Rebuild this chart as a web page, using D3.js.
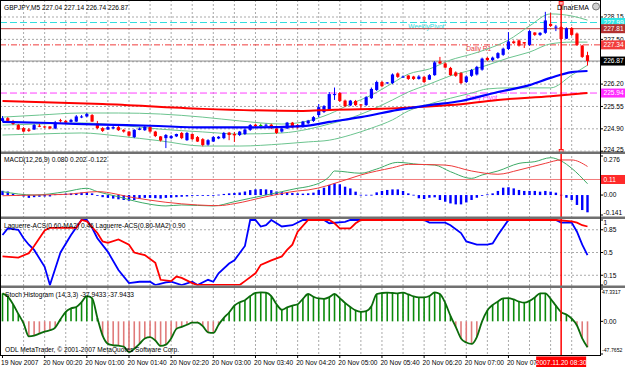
<!DOCTYPE html>
<html>
<head>
<meta charset="utf-8">
<script src="https://cdnjs.cloudflare.com/ajax/libs/d3/7.8.5/d3.min.js"></script>
<style>
  body { margin: 0; background: #fff; }
  svg { display: block; }
  text { font-family: "Liberation Sans", Arial, sans-serif; font-size: 6.6px; }
</style>
</head>
<body>
<svg id="chart"></svg>
<script>
(function() {

// ---------- data ----------
const chartTitle = "GBPJPY,M5 227.04 227.14 226.74 226.87";

// GBPJPY M5 bars, 19 Nov 23:40 .. 20 Nov 08:55
const open = [225.13,225.21,225.11,225.01,224.92,224.88,224.88,224.99,224.97,224.97,
  224.91,225.15,225.13,225.10,225.11,225.23,225.26,225.30,225.05,224.92,
  224.88,224.91,224.95,224.87,224.82,224.66,224.87,224.86,224.95,224.82,
  224.68,224.63,224.63,224.68,224.78,224.57,224.75,224.66,224.60,224.44,
  224.53,224.62,224.63,224.79,224.75,224.72,224.75,224.87,225.02,225.01,
  224.99,225.02,224.91,224.82,224.91,225.08,225.01,224.95,225.06,225.13,
  225.30,225.39,225.45,225.88,225.94,225.72,225.58,225.71,225.61,225.59,
  225.79,226.03,226.26,226.22,226.23,226.51,226.39,226.45,226.42,226.35,
  226.41,226.33,226.46,226.86,226.80,226.67,226.54,226.52,226.26,226.44,
  226.48,226.62,226.96,226.90,226.96,227.05,227.22,227.44,227.47,227.42,
  227.34,227.70,227.63,227.69,227.95,227.85,227.86,227.52,227.83,227.67,
  227.32,227.04];
const high = [225.27,225.24,225.16,225.04,224.95,224.92,225.04,225.04,224.98,224.98,
  225.13,225.19,225.16,225.19,225.30,225.30,225.36,225.33,225.13,224.95,
  224.98,224.98,224.98,224.89,224.84,224.89,224.94,224.98,224.98,224.84,
  224.69,224.75,224.72,224.76,224.81,224.81,224.76,224.69,224.63,224.60,
  224.69,224.69,224.81,224.81,224.81,224.84,224.91,225.04,225.05,225.05,
  225.05,225.05,224.92,224.94,225.10,225.10,225.04,225.13,225.16,225.27,
  225.62,225.59,225.97,226.10,225.97,225.75,225.74,225.74,225.62,225.85,
  226.10,226.30,226.29,226.26,226.51,226.54,226.45,226.46,226.44,226.46,
  226.44,226.49,226.87,226.99,226.83,226.70,226.57,226.55,226.45,226.64,
  226.73,226.97,226.99,227.00,227.13,227.26,227.71,227.47,227.50,227.42,
  227.77,227.71,227.71,228.30,228.27,227.92,227.89,227.85,227.86,227.70,
  227.34,227.14];
const low = [225.10,225.10,225.01,224.87,224.81,224.81,224.87,224.95,224.92,224.89,
  224.89,225.08,225.07,225.08,225.10,225.21,225.24,225.10,224.89,224.81,
  224.87,224.89,224.84,224.79,224.68,224.63,224.86,224.84,224.79,224.66,
  224.53,224.34,224.60,224.66,224.60,224.55,224.57,224.52,224.39,224.41,
  224.52,224.60,224.60,224.57,224.52,224.69,224.72,224.84,224.95,224.97,
  224.97,224.89,224.75,224.79,224.89,224.92,224.91,224.94,225.03,225.10,
  225.24,225.36,225.42,225.74,225.68,225.53,225.56,225.56,225.45,225.56,
  225.77,226.00,226.11,226.20,226.20,226.38,226.38,226.32,226.32,226.33,
  226.23,226.32,226.44,226.78,226.67,226.44,226.41,226.20,226.23,226.41,
  226.45,226.59,226.87,226.87,226.93,227.02,227.19,227.37,227.29,227.25,
  227.31,227.60,227.60,227.66,227.86,227.74,227.48,227.51,227.60,227.31,
  226.96,226.74];
const close = [225.21,225.13,225.04,224.88,224.82,224.84,225.01,224.97,224.94,224.91,
  225.08,225.13,225.08,225.16,225.26,225.26,225.33,225.11,224.92,224.84,
  224.95,224.95,224.86,224.82,224.70,224.87,224.91,224.96,224.82,224.69,
  224.56,224.72,224.69,224.75,224.63,224.78,224.60,224.53,224.43,224.57,
  224.66,224.67,224.78,224.72,224.71,224.82,224.88,225.01,224.98,225.01,
  225.02,224.92,224.78,224.91,225.08,224.94,224.94,225.11,225.14,225.24,
  225.53,225.56,225.91,225.91,225.71,225.56,225.72,225.59,225.58,225.82,
  226.06,226.26,226.14,226.25,226.48,226.41,226.42,226.35,226.35,226.42,
  226.26,226.46,226.83,226.80,226.68,226.46,226.44,226.23,226.42,226.61,
  226.70,226.94,226.90,226.97,227.10,227.23,227.44,227.39,227.32,227.38,
  227.74,227.63,227.69,228.05,227.89,227.87,227.51,227.82,227.63,227.34,
  226.99,226.87];

// moving averages (bar index, price)
const emaFastIdx = [0,9,19,28,38,47,57,62,68,75,81,87,94,100,104,108,111];
const emaFast = [225.10,225.07,225.02,224.99,224.94,224.94,224.98,225.10,225.24,225.45,225.59,225.71,225.97,226.17,226.38,226.55,226.58];
const emaSlowIdx = [0,19,38,57,62,75,85,94,104,111];
const emaSlow = [225.71,225.62,225.48,225.42,225.45,225.50,225.59,225.74,225.85,225.94];

// bands
const bandIdx = [0,7,15,22,30,38,45,53,58,62,66,70,74,77,81,85,89,92,96,100,104,108,111];
const bandUpper = [225.24,225.30,225.36,225.36,225.33,225.24,225.13,225.04,225.13,225.33,225.62,225.88,226.23,226.49,226.64,226.90,227.07,227.22,227.48,227.89,228.24,228.18,228.06];
const bandMid = [225.01,225.04,225.07,225.01,224.89,224.81,224.75,224.78,224.89,225.04,225.21,225.45,225.74,225.97,226.20,226.44,226.61,226.75,226.96,227.13,227.37,227.42,227.42];
const bandLower = [224.72,224.75,224.78,224.69,224.55,224.40,224.40,224.46,224.52,224.57,224.72,224.92,225.16,225.42,225.62,225.79,225.94,226.06,226.09,226.09,226.09,226.46,226.75];

// horizontal lines
const levelValues = [227.99, 227.81, 227.34, 226.87, 225.94];
const levelNames = ["WeeklyPivot", "", "Daily R1", "", "Daily Pivot"];
const levelNameBar = [77, null, 88, null, 88];
const mainTicks = [228.15, 227.50, 226.85, 226.20, 225.55, 224.90, 224.25];

// MACD
const macdTitle = "MACD(12,26,9) 0.080 0.202 -0.122";
const macdHist = [0.03,0.025,0.01,-0.005,-0.01,-0.02,-0.015,-0.012,-0.01,-0.01,
  0.005,0.008,0.01,0.012,0.015,0.018,0.02,0.012,-0.005,-0.015,
  -0.02,-0.025,-0.03,-0.035,-0.04,-0.035,-0.025,-0.02,-0.02,-0.022,
  -0.025,-0.02,-0.018,-0.015,-0.012,-0.01,-0.006,-0.005,-0.005,-0.004,
  -0.002,0.003,0.008,0.012,0.015,0.018,0.025,0.035,0.04,0.042,
  0.04,0.035,0.025,0.02,0.018,0.015,0.012,0.01,0.012,0.017,
  0.036,0.052,0.071,0.083,0.076,0.059,0.047,0.024,0.002,0.002,
  0.002,0.019,0.029,0.036,0.04,0.04,0.029,0.012,0.002,-0.023,
  -0.028,-0.019,-0.016,-0.035,-0.047,-0.059,-0.066,-0.066,-0.052,-0.035,
  -0.019,-0.002,0.005,0.012,0.029,0.052,0.055,0.047,0.036,0.029,
  0.029,0.029,0.024,0.029,0.024,0.017,0.002,-0.019,-0.035,-0.07,
  -0.106,-0.122];
const macdMainIdx = [0,6,12,16,18,22,25,28,31,34,40,44,47,50,53,56,58,62,63,68,71,75,79,82,85,89,91,94,98,101,104,106,108,111];
const macdMain = [0.024,0,0.024,0.048,0.024,-0.012,-0.042,-0.065,-0.077,-0.07,-0.077,-0.047,-0.023,0,0.024,0.048,0.06,0.13,0.17,0.154,0.184,0.231,0.217,0.212,0.165,0.118,0.142,0.17,0.224,0.236,0.264,0.241,0.189,0.08];
const macdSignalIdx = [0,6,12,18,25,31,37,41,44,50,56,58,65,68,74,77,84,89,94,98,103,106,108,111];
const macdSignal = [-0.005,0,0.005,0.024,-0.019,-0.051,-0.07,-0.075,-0.061,-0.012,0.029,0.036,0.106,0.142,0.193,0.217,0.212,0.17,0.147,0.177,0.224,0.248,0.248,0.202];
const macdLevel = 0.11;
const macdTicks = [0.276, 0, -0.141];
const macdTickLabels = ["0.276", "0.00", "-0.141"];

// Laguerre
const lagTitle = "Laguerre-ACS(0.60-MA2) 0.46 Laguerre-ACS(0.80-MA2) 0.90";
const lagFastIdx = [0,1,3,4,5,6,8,9,11,13,15,16,17,18,20,22,24,26,28,29,31,32,34,36,37,39,40,41,43,44,46,47,48,49,50,51,53,55,57,61,62,65,66,80,81,84,85,87,88,90,92,93,94,96,105,106,108,109,110,111];
const lagFast = [0.77,0.87,0.85,0.72,0.62,0.54,0.28,0,0.5,0.77,1,1,0.88,0.72,0.51,0.23,0.03,0.05,0.05,0,0.04,0.05,0,0.05,0,0.08,0.05,0.18,0.33,0.38,0.6,1,1,0.9,0.92,1,0.9,0.92,1,1,0.95,0.97,1,1,0.96,0.96,0.92,0.8,0.67,0.62,0.62,0.64,0.77,1,1,0.96,0.96,0.82,0.62,0.46];
const lagSlowIdx = [0,3,5,6,8,9,14,15,16,18,19,20,22,24,25,26,27,29,30,32,33,34,36,37,45,46,48,49,51,53,54,55,56,58,62,63,64,66,67,68,105,108,109,110,111];
const lagSlow = [0.44,0.42,0.49,0.6,0.84,0.88,0.88,1,0.98,0.8,0.67,0.65,0.7,0.62,0.5,0.48,0.46,0.34,0.08,0.06,0.13,0.11,0.03,0,0,0.06,0.18,0.31,0.38,0.44,0.54,0.62,0.82,1,1,0.95,0.87,0.87,0.95,1,1,0.98,0.96,0.92,0.90];
const lagLevels = [0.85, 0.5, 0.15];
const lagTicks = [1, 0.85, 0.5, 0.15, 0];
const lagTickLabels = ["1", "0.85", "0.5", "0.15", "0"];

// Stoch histogram
const stochTitle = "Stoch Histogram (14,3,3) -37.9433 -37.9433";
const stochHist = [41,36,25,11,-3,-22,-21,-18,-15,-13,
  -9,3,14,19,21,28,37,34,5,-21,
  -33,-35,-35.6,-37,-45,-40,-33,-25,-23,-28,
  -36,-34,-25,-11,-8,-5,-2,-2,-7,-16,
  -17,-5,5,13,23,28,31,37,41.5,42.5,
  42,37,25,17,20.5,23,25,33,40,36,
  33.5,33,35.5,40,34,27,21,16,14,15,
  22,40,41.5,42,41.5,41,42,39.5,36.5,35,
  35,37,42.5,40,27,8,-8,-25,-31,-33,
  -23,0,16,24,29,33.7,34,32,29,27.3,
  30,35,41,41,33,23,13.5,10,4,-6,
  -25,-37.9433];
const stochTicks = [47.3317, 0, -47.7652];
const stochTickLabels = ["47.3317", "0.00", "-47.7652"];
const copyright = "ODL MetaTrader, \u00a9 2001-2007 MetaQuotes Software Corp.";

// time axis
const timeTickBars = [0,8,16,24,32,40,48,56,64,72,80,88,96];
const timeTickLabels = ["19 Nov 2007","20 Nov 00:20","20 Nov 01:00","20 Nov 01:40","20 Nov 02:20",
  "20 Nov 03:00","20 Nov 03:40","20 Nov 04:20","20 Nov 05:00","20 Nov 05:40","20 Nov 06:20",
  "20 Nov 07:00","20 Nov 07:40"];
const markerBar = 106;
const markerLabel = "2007.11.20 08:30";
const eaName = "DinarEMA";

// ---------- layout ----------
const W = 625, H = 367;
const plotW = 600;
const panes = {
  main:  { top: 0,   bottom: 151.5 },
  macd:  { top: 154, bottom: 216.5 },
  lag:   { top: 219, bottom: 285.5 },
  stoch: { top: 288, bottom: 355 }
};
const gridColor = "#a9a9a9";

const svg = d3.select("#chart").attr("width", W).attr("height", H);
svg.append("rect").attr("width", W).attr("height", H).attr("fill", "#fff");

const bars = d3.range(close.length);
const x = d3.scaleLinear().domain([0, bars.length - 1]).range([2.5, 587.5]);

const yMain = d3.scaleLinear().domain([224.25, 228.15]).range([151.2, 17]);
const yMacd = d3.scaleLinear().domain([-0.141, 0.276]).range([215, 156]);
const yLag = d3.scaleLinear().domain([0, 1]).range([285, 220]);
const yStoch = d3.scaleLinear().domain([-47.7652, 47.3317]).range([354, 289]);

const xm = x(markerBar);

const defs = svg.append("defs");
Object.entries(panes).forEach(([k, p]) => {
  defs.append("clipPath").attr("id", "clip-" + k)
    .append("rect")
    .attr("x", 0).attr("y", p.top)
    .attr("width", plotW).attr("height", p.bottom - p.top);
});
// time labels stop where the marker's date box begins
defs.append("clipPath").attr("id", "clip-time")
  .append("rect").attr("x", 0).attr("y", 355).attr("width", xm - 25).attr("height", 12);

const layer = k => svg.append("g").attr("clip-path", `url(#clip-${k})`);
const pts = (idx, vals) => d3.zip(idx, vals);

// vertical grid through every pane
const gGrid = svg.append("g");
gGrid.selectAll("line.vgrid")
  .data(bars.filter(i => i > 0 && i % 4 === 0))
  .join("line")
    .attr("x1", i => x(i)).attr("x2", i => x(i))
    .attr("y1", 0).attr("y2", 355)
    .attr("stroke", gridColor).attr("stroke-dasharray", "2,2");

// ---------- main pane ----------
const gMain = layer("main");

gMain.selectAll("line.hgrid")
  .data(mainTicks)
  .join("line")
    .attr("x1", 0).attr("x2", plotW)
    .attr("y1", d => yMain(d)).attr("y2", d => yMain(d))
    .attr("stroke", gridColor).attr("stroke-dasharray", "2,2");

const levelStroke = ["#33dede", "#c43a3a", "#f03c3c", "#8a8a8a", "#ff40ff"];
const levelDash = ["7,3", null, "6,2,1,2", null, "7,3"];
const levelBox = ["#2fe6e6", "#b33030", "#f23c3c", "#000000", "#ff2cff"];
const levelText = ["#2fd8d8", "#c43a3a", "#e83a3a", "#000", "#ff40ff"];

levelValues.forEach((v, k) => {
  gMain.append("line")
    .attr("x1", 0).attr("x2", plotW)
    .attr("y1", yMain(v)).attr("y2", yMain(v))
    .attr("stroke", levelStroke[k])
    .attr("stroke-dasharray", levelDash[k]);
  if (levelNames[k]) {
    gMain.append("text")
      .attr("x", x(levelNameBar[k]))
      .attr("y", yMain(v) + 6.5)
      .attr("fill", levelText[k])
      .text(levelNames[k]);
  }
});

// bands
const bandLine = d3.line()
  .x(d => x(d[0])).y(d => yMain(d[1]))
  .curve(d3.curveMonotoneX);
[bandUpper, bandMid, bandLower].forEach(b => {
  gMain.append("path")
    .datum(pts(bandIdx, b))
    .attr("fill", "none")
    .attr("stroke", "#6cc48f")
    .attr("stroke-width", 1)
    .attr("d", bandLine);
});

// candles
const candleColor = i => close[i] > open[i] ? "#0000ff" : (close[i] < open[i] ? "#ff0000" : "#00b000");
const candles = gMain.selectAll("g.candle").data(bars).join("g");
candles.append("line")
  .attr("x1", i => x(i)).attr("x2", i => x(i))
  .attr("y1", i => yMain(high[i])).attr("y2", i => yMain(low[i]))
  .attr("stroke", candleColor);
candles.append("rect")
  .attr("x", i => x(i) - 1.6)
  .attr("width", 3.2)
  .attr("y", i => yMain(Math.max(open[i], close[i])))
  .attr("height", i => Math.max(1, Math.abs(yMain(open[i]) - yMain(close[i]))))
  .attr("fill", candleColor);

// moving averages
const maLine = d3.line()
  .x(d => x(d[0])).y(d => yMain(d[1]))
  .curve(d3.curveMonotoneX);
gMain.append("path")
  .datum(pts(emaSlowIdx, emaSlow))
  .attr("fill", "none").attr("stroke", "#ff0000").attr("stroke-width", 2)
  .attr("d", maLine);
gMain.append("path")
  .datum(pts(emaFastIdx, emaFast))
  .attr("fill", "none").attr("stroke", "#0000ff").attr("stroke-width", 2.2)
  .attr("d", maLine);

svg.append("text").attr("x", 4).attr("y", 10).attr("fill", "#000").text(chartTitle);

// ---------- MACD pane ----------
const gMacd = layer("macd");
gMacd.append("line")
  .attr("x1", 0).attr("x2", plotW)
  .attr("y1", yMacd(macdLevel)).attr("y2", yMacd(macdLevel))
  .attr("stroke", "#f27c7c");
gMacd.selectAll("rect.hist")
  .data(bars)
  .join("rect")
    .attr("x", i => x(i) - 1.2)
    .attr("width", 2.4)
    .attr("y", i => Math.min(yMacd(0), yMacd(macdHist[i])))
    .attr("height", i => Math.max(0.8, Math.abs(yMacd(macdHist[i]) - yMacd(0))))
    .attr("fill", "#0000ff");
const macdLine = d3.line()
  .x(d => x(d[0])).y(d => yMacd(d[1]))
  .curve(d3.curveMonotoneX);
gMacd.append("path")
  .datum(pts(macdMainIdx, macdMain))
  .attr("fill", "none").attr("stroke", "#3daa66").attr("stroke-width", 1)
  .attr("d", macdLine);
gMacd.append("path")
  .datum(pts(macdSignalIdx, macdSignal))
  .attr("fill", "none").attr("stroke", "#ee3a3a").attr("stroke-width", 1)
  .attr("d", macdLine);
svg.append("text").attr("x", 4).attr("y", 162).attr("fill", "#000").text(macdTitle);

// ---------- Laguerre pane ----------
const gLag = layer("lag");
gLag.selectAll("line.lvl")
  .data(lagLevels)
  .join("line")
    .attr("x1", 0).attr("x2", plotW)
    .attr("y1", d => yLag(d)).attr("y2", d => yLag(d))
    .attr("stroke", gridColor).attr("stroke-dasharray", "2,2");
const lagLine = d3.line().x(d => x(d[0])).y(d => yLag(d[1]));
gLag.append("path")
  .datum(pts(lagFastIdx, lagFast))
  .attr("fill", "none").attr("stroke", "#0000ff").attr("stroke-width", 1.8)
  .attr("d", lagLine);
gLag.append("path")
  .datum(pts(lagSlowIdx, lagSlow))
  .attr("fill", "none").attr("stroke", "#ff0000").attr("stroke-width", 1.8)
  .attr("d", lagLine);
svg.append("text").attr("x", 4).attr("y", 228).attr("fill", "#000").text(lagTitle);

// ---------- Stoch histogram pane ----------
const gSto = layer("stoch");
gSto.selectAll("line.sbar")
  .data(bars)
  .join("line")
    .attr("x1", i => x(i)).attr("x2", i => x(i))
    .attr("y1", yStoch(0)).attr("y2", i => yStoch(stochHist[i]))
    .attr("stroke", i => stochHist[i] >= 0 ? "#0a8a0a" : "#e07a7a")
    .attr("stroke-width", 1.6);
gSto.append("path")
  .datum(bars)
  .attr("fill", "none").attr("stroke", "#0b6b0b").attr("stroke-width", 1.8)
  .attr("d", d3.line().x(i => x(i)).y(i => yStoch(stochHist[i])).curve(d3.curveMonotoneX));
svg.append("text").attr("x", 5).attr("y", 296.5).attr("fill", "#000").text(stochTitle);
svg.append("text").attr("x", 5).attr("y", 351.5).attr("fill", "#000").text(copyright);

// ---------- marker line ----------
svg.append("line")
  .attr("x1", xm).attr("x2", xm).attr("y1", 0).attr("y2", 355)
  .attr("stroke", "#ff0000").attr("stroke-width", 1.5);
[1.5, 149.5].forEach(yy => {
  svg.append("rect")
    .attr("x", xm - 2).attr("y", yy).attr("width", 4).attr("height", 3.5)
    .attr("fill", "#ffb0b0").attr("stroke", "#ff0000").attr("stroke-width", 0.8);
});
svg.append("text").attr("x", 557).attr("y", 10).attr("fill", "#000")
  .style("font-size", "7px").text(eaName);
svg.append("circle").attr("cx", 596).attr("cy", 6.5).attr("r", 3.5)
  .attr("fill", "#d0d0d0").attr("stroke", "#777");

// ---------- pane separators and frame ----------
[[151.5, 154], [216.5, 219], [285.5, 288]].forEach(([a, b]) => {
  svg.append("rect").attr("x", 0).attr("y", a).attr("width", W).attr("height", b - a)
    .attr("fill", "#707070");
});
svg.append("rect")
  .attr("x", 0.5).attr("y", 0.5).attr("width", plotW).attr("height", 355)
  .attr("fill", "none").attr("stroke", "#000");

// ---------- right price scales ----------
function scaleLabels(scale, values, labels, pane, lo, hi) {
  values.forEach((v, k) => {
    const yy = Math.max(pane.top + lo, Math.min(pane.bottom - hi, scale(v)));
    const long = labels[k].length > 6;
    svg.append("line")
      .attr("x1", plotW + 0.5).attr("x2", plotW + 3)
      .attr("y1", scale(v)).attr("y2", scale(v))
      .attr("stroke", "#000");
    svg.append("text")
      .attr("x", long ? plotW + 2 : plotW + 3.5).attr("y", yy).attr("dy", "0.35em")
      .attr("fill", "#000")
      .style("font-size", long ? "5.2px" : null)
      .text(labels[k]);
  });
}
scaleLabels(yMain, mainTicks, mainTicks.map(d3.format(".2f")), panes.main, 4, 2);
scaleLabels(yMacd, macdTicks, macdTickLabels, panes.macd, 5.5, 3.5);
scaleLabels(yLag, lagTicks, lagTickLabels, panes.lag, 4, 3);
scaleLabels(yStoch, stochTicks, stochTickLabels, panes.stoch, 4, 5);

function boxLabel(yy, label, bg, fg) {
  svg.append("rect")
    .attr("x", plotW + 1).attr("y", yy - 4.5).attr("width", W - plotW - 1).attr("height", 9)
    .attr("fill", bg);
  svg.append("text")
    .attr("x", plotW + 3.5).attr("y", yy).attr("dy", "0.35em")
    .attr("fill", fg).text(label);
}
levelValues.forEach((v, k) => boxLabel(yMain(v), d3.format(".2f")(v), levelBox[k], "#fff"));
boxLabel(yMacd(macdLevel), "0.11", "#ff2a2a", "#fff");

// ---------- time axis ----------
svg.selectAll("line.tt")
  .data(timeTickBars)
  .join("line")
    .attr("x1", i => x(i)).attr("x2", i => x(i))
    .attr("y1", 355.5).attr("y2", 358)
    .attr("stroke", "#000");
svg.append("g").attr("clip-path", "url(#clip-time)")
  .selectAll("text")
  .data(timeTickBars)
  .join("text")
    .attr("x", i => x(i) - 1.5)
    .attr("y", 364.5)
    .attr("fill", "#000")
    .text((d, k) => timeTickLabels[k]);
svg.append("rect")
  .attr("x", xm - 25).attr("y", 356.5).attr("width", 50).attr("height", 10.5)
  .attr("fill", "#ff0000");
svg.append("text")
  .attr("x", xm).attr("y", 364.5).attr("text-anchor", "middle")
  .attr("fill", "#fff").text(markerLabel);

})();
</script>
</body>
</html>
